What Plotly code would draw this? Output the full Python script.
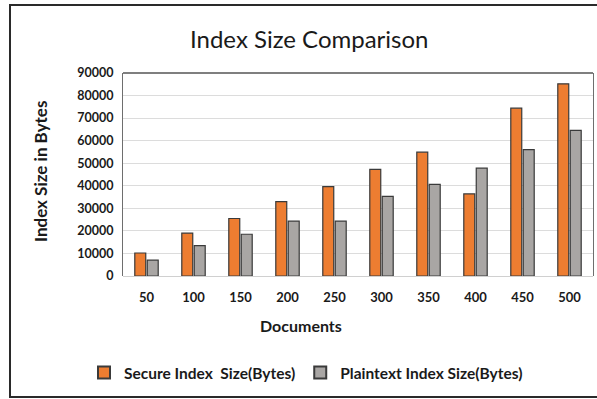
import plotly.graph_objects as go

documents = ["50", "100", "150", "200", "250", "300", "350", "400", "450", "500"]
secure_index = [10200, 19000, 25500, 33000, 39600, 47300, 54900, 36400, 74400, 85200]
plaintext_index = [7000, 13500, 18500, 24300, 24300, 35300, 40600, 47800, 56000, 64600]
y_ticks = [0, 10000, 20000, 30000, 40000, 50000, 60000, 70000, 80000, 90000]

W, H = 597, 399
L, R, T, B = 123, 4, 73, 123
pw = W - L - R
ph = H - T - B

def px_x(x):
    return (x - L) / pw

def px_y(y):
    return (H - B - y) / ph

font_family = "Lato"

fig = go.Figure()
fig.add_trace(go.Bar(
    x=documents, y=secure_index, name="Secure Index&nbsp; Size(Bytes)",
    marker=dict(color="#ED7D31", line=dict(color="#3a3a3a", width=1.2)),
))
fig.add_trace(go.Bar(
    x=documents, y=plaintext_index, name="Plaintext Index Size(Bytes)",
    marker=dict(color="#A9A6A4", line=dict(color="#3a3a3a", width=1.2)),
))

fig.update_layout(
    width=W, height=H,
    margin=dict(l=L, r=R, t=T, b=B),
    paper_bgcolor="white", plot_bgcolor="white",
    barmode="group", bargap=0.47, bargroupgap=0.12,
    font=dict(family=font_family, color="#1a1a1a"),
    showlegend=True,
    legend=dict(
        orientation="h", x=px_x(306), xanchor="center", y=px_y(373), yanchor="middle",
        font=dict(size=15.5, family=font_family, weight="bold", color="#1a1a1a"),
        itemsizing="constant", traceorder="normal", itemwidth=30,
    ),
    xaxis=dict(
        type="category", showgrid=False, showline=False, ticks="",
        tickfont=dict(size=13, weight="bold", family=font_family),
        ticklabelstandoff=12,
    ),
    yaxis=dict(
        range=[0, 90000], tickvals=y_ticks, tickformat="d", showgrid=True,
        gridcolor="#dcdcdc", gridwidth=1,
        showline=True, mirror=True, linecolor="#6e6e6e", linewidth=1.2, ticks="",
        tickfont=dict(size=12.5, weight="bold", family=font_family),
        ticklabelstandoff=6,
        zeroline=True, zerolinecolor="#d0d0d0", zerolinewidth=1,
    ),
    annotations=[
        dict(text="Index Size Comparison", x=px_x(309), y=px_y(38), xref="paper", yref="paper",
             showarrow=False, xanchor="center", yanchor="middle",
             font=dict(size=24, family=font_family, color="#1a1a1a")),
        dict(text="Documents", x=px_x(301), y=px_y(325), xref="paper", yref="paper",
             showarrow=False, xanchor="center", yanchor="middle",
             font=dict(size=16, family=font_family, weight="bold", color="#1a1a1a")),
        dict(text="Index Size in Bytes", x=px_x(40), y=px_y(172), xref="paper", yref="paper",
             showarrow=False, xanchor="center", yanchor="middle", textangle=-90,
             font=dict(size=17, family=font_family, weight="bold", color="#1a1a1a")),
    ],
    shapes=[
        dict(type="line", xref="paper", yref="paper", x0=0, x1=1, y0=1, y1=1,
             line=dict(color="#555555", width=1.5)),
        dict(type="rect", xref="paper", yref="paper",
             x0=px_x(10), x1=px_x(610), y0=px_y(397), y1=px_y(5),
             line=dict(color="#2a2a2a", width=2), layer="below"),
    ],
)

fig.write_html("out.html")
